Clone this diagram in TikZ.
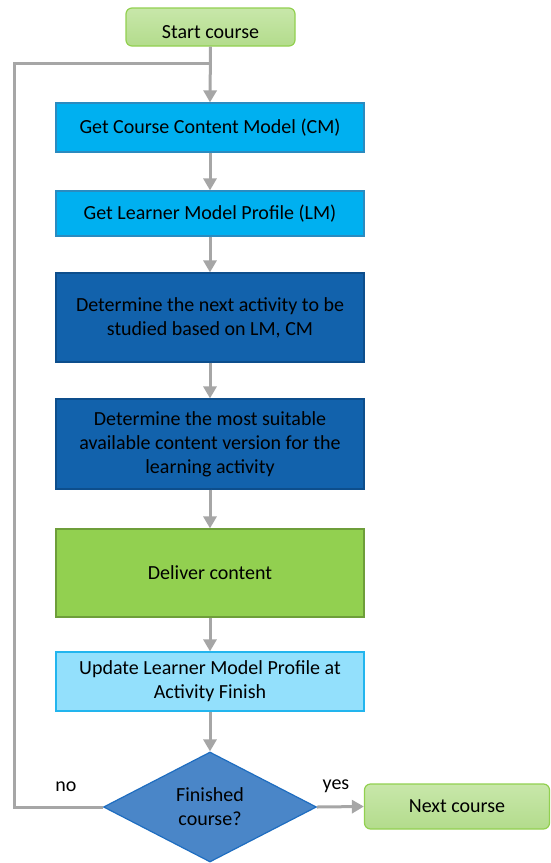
\documentclass[tikz,border=0pt]{standalone}
\usepackage{fontspec}
\setmainfont{Carlito}
\usetikzlibrary{arrows.meta,shapes.geometric}

\definecolor{cyanfill}{HTML}{00B0F0}
\definecolor{cyanline}{HTML}{2A8BC0}
\definecolor{navyfill}{HTML}{1262AC}
\definecolor{navyline}{HTML}{0D4E8C}
\definecolor{leaffill}{HTML}{92D050}
\definecolor{leafline}{HTML}{6E9E3A}
\definecolor{skyfill}{HTML}{93E0FC}
\definecolor{skyline}{HTML}{22B5EE}
\definecolor{decfill}{HTML}{4A86C8}
\definecolor{decline}{HTML}{1E6DC0}
\definecolor{mintop}{HTML}{C8E7AA}
\definecolor{minbot}{HTML}{B3DC8C}
\definecolor{minline}{HTML}{92D050}
\definecolor{wire}{HTML}{A6A6A6}

\tikzset{
  txt/.style={font=\fontsize{20}{24}\selectfont, text=black, align=center, inner sep=0pt},
  procbox/.style={txt, rectangle, minimum width=308pt, line width=1.2pt},
  getbox/.style={procbox, fill=cyanfill, draw=cyanline},
  decidebox/.style={procbox, fill=navyfill, draw=navyline},
  deliverbox/.style={procbox, fill=leaffill, draw=leafline},
  updatebox/.style={procbox, fill=skyfill, draw=skyline},
  terminal/.style={txt, rectangle, rounded corners=6pt, top color=mintop, bottom color=minbot,
    draw=minline, line width=1.2pt},
  decision/.style={txt, diamond, aspect=1.94, minimum width=213pt, minimum height=110pt,
    fill=decfill, draw=decline, line width=1.2pt},
  flow/.style={draw=wire, line width=3pt, -{Triangle[length=12pt,width=13pt]}},
  wireline/.style={draw=wire, line width=3pt},
  lbl/.style={font=\fontsize{20}{24}\selectfont, text=black, inner sep=0pt}
}

\begin{document}
\begin{tikzpicture}[x={(1pt,0)}, y={(0,-1pt)}]
  \useasboundingbox (0,0) rectangle (551,863);

  % nodes of the flow
  \node[terminal, minimum width=169pt, minimum height=38pt] (start) at (210.5,27)
    {\raisebox{-5pt}[\height][\depth]{Start course}};
  \node[getbox, minimum height=49pt] (cm) at (210,127.5) {Get Course Content Model (CM)};
  \node[getbox, minimum height=45pt] (lm) at (210,213.5) {Get Learner Model Profile (LM)};
  \node[decidebox, minimum height=89pt] (next) at (210,317.5)
    {Determine the next activity to be\\ studied based on LM, CM};
  \node[decidebox, minimum height=90pt] (version) at (210,444)
    {Determine the most suitable\\ available content version for the\\ learning activity};
  \node[deliverbox, minimum height=88pt] (deliver) at (210,573) {Deliver content};
  \node[updatebox, minimum height=59pt] (update) at (210,681.5)
    {Update Learner Model Profile at\\ Activity Finish};
  \node[decision] (done) at (210,807) {Finished\\ course?};
  \node[terminal, minimum width=185pt, minimum height=45pt] (nextcourse) at (457,806.5) {Next course};

  % loop-back corner and join point
  \coordinate (loopL) at (14,63);
  \coordinate (join) at (start.south |- loopL);

  % connectors
  \draw[flow] (start.south) -- (cm.north);
  \draw[flow] (cm.south) -- (lm.north);
  \draw[flow] (lm.south) -- (next.north);
  \draw[flow] (next.south) -- (version.north);
  \draw[flow] (version.south) -- (deliver.north);
  \draw[flow] (deliver.south) -- (update.north);
  \draw[flow] (update.south) -- (done.north);
  \draw[flow] (done.east) -- (nextcourse.west);
  \draw[wireline, line join=miter] (done.west) -| (loopL) -- (join);

  % branch labels
  \node[lbl] (nolbl) at (66,787) {no};
  \node[lbl] (yeslbl) at (336,786) {yes};
\end{tikzpicture}
\end{document}
